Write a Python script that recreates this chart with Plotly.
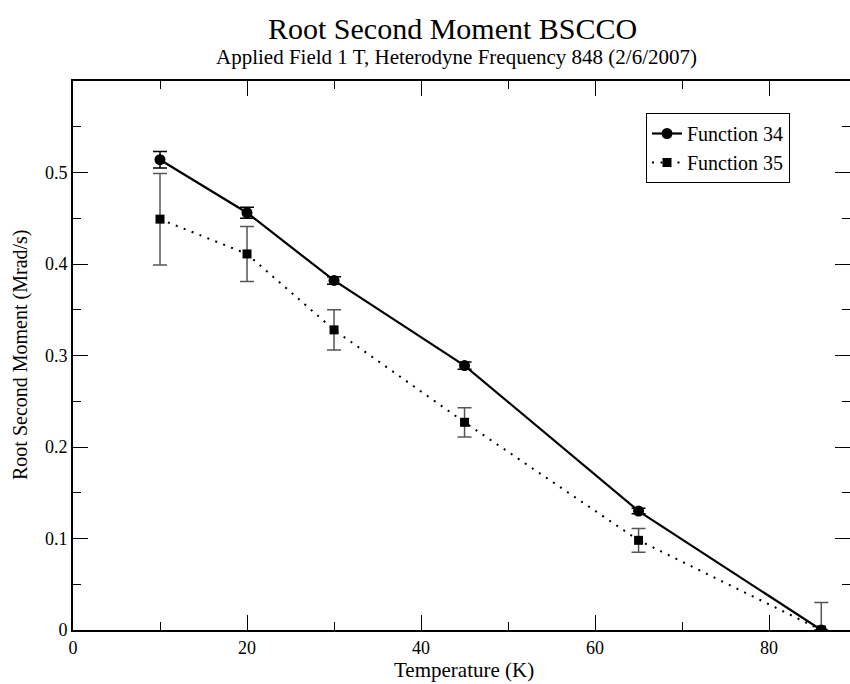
import plotly.graph_objects as go

temps = [10, 20, 30, 45, 65, 86]
f34 = [0.514, 0.456, 0.382, 0.289, 0.130, 0.0]
f34_err = [0.009, 0.006, 0.004, 0.004, 0.003, 0.0]
f35 = [0.449, 0.411, 0.328, 0.227, 0.098, 0.0]
f35_err = [0.050, 0.030, 0.022, 0.016, 0.013, 0.030]

FONT = "Liberation Serif"
XR = [0, 89.3]
YR = [0, 0.6]

fig = go.Figure()
fig.add_trace(go.Scatter(
    x=temps, y=f35, name="Function 35", mode="lines+markers",
    line=dict(color="black", width=2, dash="2px,6.5px"),
    marker=dict(symbol="square", size=9, color="black"),
    error_y=dict(type="data", array=f35_err, visible=True, color="#555555", thickness=1.5, width=7),
))
fig.add_trace(go.Scatter(
    x=temps, y=f34, name="Function 34", mode="lines+markers",
    line=dict(color="black", width=2.2),
    marker=dict(symbol="circle", size=11, color="black"),
    error_y=dict(type="data", array=f34_err, visible=True, color="black", thickness=1.5, width=7),
))

axis_common = dict(
    showgrid=False, zeroline=False, ticks="inside", ticklen=15, tickwidth=1.2,
    tickcolor="black", linecolor="black", linewidth=2,
    tickfont=dict(family=FONT, size=18, color="black"),
)
minor_x = dict(dtick=10, ticks="inside", ticklen=8, tickcolor="black", tickwidth=1.2)
minor_y = dict(dtick=0.05, ticks="inside", ticklen=8, tickcolor="black", tickwidth=1.2)

fig.update_layout(
    width=850, height=684,
    margin=dict(l=73, r=0, t=81, b=54),
    paper_bgcolor="white", plot_bgcolor="white",
    font=dict(family=FONT, color="black"),
    xaxis=dict(range=XR, tickvals=[0, 20, 40, 60, 80], showline=True, minor=minor_x, **axis_common),
    yaxis=dict(range=YR, tickvals=[0, 0.1, 0.2, 0.3, 0.4, 0.5],
               ticktext=["0", "0.1", "0.2", "0.3", "0.4", "0.5"],
               showline=True, minor=minor_y, **axis_common),
    xaxis2=dict(range=XR, overlaying="x", side="top", tickvals=[0, 20, 40, 60, 80], showticklabels=False,
                showline=True, anchor="y", minor=minor_x, **axis_common),
    yaxis2=dict(range=YR, overlaying="y", side="right", tickvals=[0, 0.1, 0.2, 0.3, 0.4, 0.5],
                showticklabels=False, anchor="x", minor=minor_y,
                **{**axis_common, "linewidth": 0}),
    legend=dict(x=(790 - 73) / 777, y=(630 - 113) / 549, xanchor="right", yanchor="top",
                bordercolor="black", borderwidth=1, bgcolor="white",
                font=dict(family=FONT, size=20, color="black"), traceorder="reversed",
                tracegroupgap=0),
    showlegend=True,
)
fig.add_trace(go.Scatter(x=[None], y=[None], xaxis="x2", yaxis="y2", showlegend=False, hoverinfo="skip"))

fig.add_annotation(text="Root Second Moment BSCCO", xref="paper", yref="paper", x=(452 - 73) / 777,
                   y=(630 - 29) / 549, xanchor="center", yanchor="middle", showarrow=False,
                   font=dict(family=FONT, size=30))
fig.add_annotation(text="Applied Field 1 T, Heterodyne Frequency 848 (2/6/2007)", xref="paper", yref="paper",
                   x=(456 - 73) / 777, y=(630 - 57) / 549, xanchor="center", yanchor="middle", showarrow=False,
                   font=dict(family=FONT, size=21))
fig.add_annotation(text="Temperature (K)", xref="paper", yref="paper", x=(464 - 73) / 777, y=(630 - 670) / 549,
                   xanchor="center", yanchor="middle", showarrow=False, font=dict(family=FONT, size=21))
fig.add_annotation(text="Root Second Moment (Mrad/s)", xref="paper", yref="paper", x=(20 - 73) / 777,
                   y=(630 - 355) / 549, xanchor="center", yanchor="middle", textangle=-90, showarrow=False,
                   font=dict(family=FONT, size=20))

fig.write_html("out.html")
